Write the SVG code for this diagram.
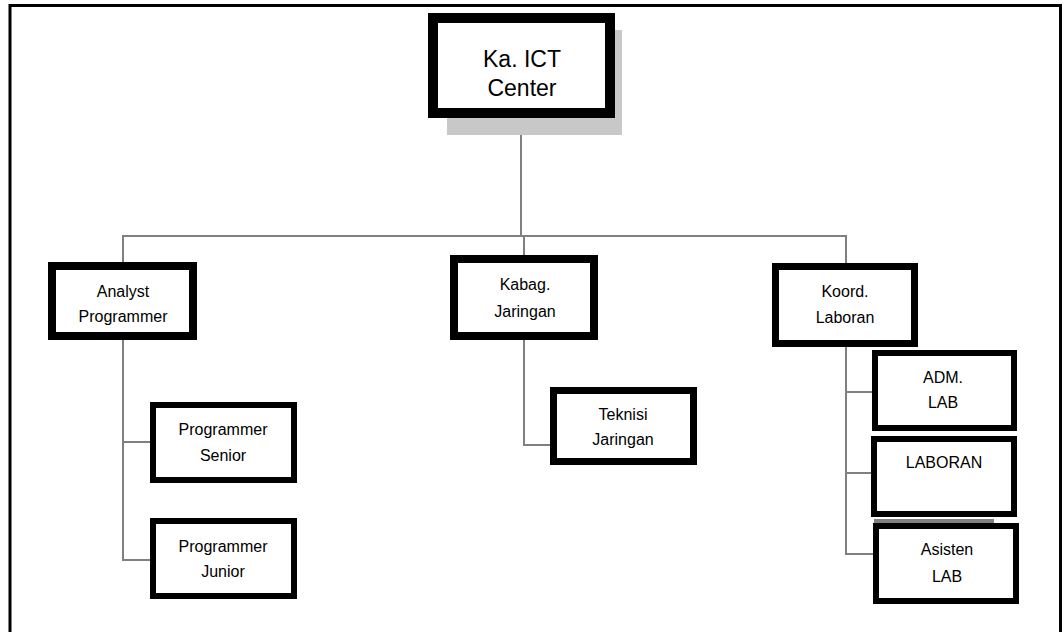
<svg xmlns="http://www.w3.org/2000/svg" width="1064" height="632" viewBox="0 0 1064 632">
<style>
.box{fill:#fff;stroke:#000}
.t{font-family:"Liberation Sans",Arial,sans-serif;font-size:16px;fill:#000;text-anchor:middle}
.big{font-size:23px}
.c{fill:none;stroke:#808080;stroke-width:2}
.sh{fill:#c8c8c8}
</style>
<rect width="1064" height="632" fill="#fff"/>
<path d="M10,640 V5.5 H1060.5 V640" fill="none" stroke="#000" stroke-width="3"/>
<g id="connectors">
<path class="c" d="M521,118 V236 M123,262 V236 H846 V263 M524,236 V255"/>
<path class="c" d="M123,340 V560 H150 M123,442 H150"/>
<path class="c" d="M524,340 V445 H550"/>
<path class="c" d="M846,347 V554 H873 M846,392 H872 M846,473 H871"/>
</g>
<g id="ka-ict-center">
<rect class="sh" x="447" y="30" width="175" height="105"/>
<rect class="box" x="433" y="18" width="177" height="95" stroke-width="10"/>
<text class="t big" x="522" y="67">Ka. ICT</text>
<text class="t big" x="522" y="96">Center</text>
</g>
<g id="analyst-programmer">
<rect class="box" x="52" y="266" width="141" height="70" stroke-width="8"/>
<text class="t" x="123" y="297">Analyst</text>
<text class="t" x="123" y="322">Programmer</text>
</g>
<g id="kabag-jaringan">
<rect class="box" x="454" y="259" width="140" height="77" stroke-width="8"/>
<text class="t" x="525" y="290">Kabag.</text>
<text class="t" x="525" y="317">Jaringan</text>
</g>
<g id="koord-laboran">
<rect class="box" x="775.5" y="266.5" width="139" height="77" stroke-width="7"/>
<text class="t" x="845" y="297">Koord.</text>
<text class="t" x="845" y="323">Laboran</text>
</g>
<g id="programmer-senior">
<rect class="box" x="153" y="405" width="141" height="75" stroke-width="6"/>
<text class="t" x="223" y="435">Programmer</text>
<text class="t" x="223" y="461">Senior</text>
</g>
<g id="programmer-junior">
<rect class="box" x="153" y="521" width="141" height="75" stroke-width="6"/>
<text class="t" x="223" y="552">Programmer</text>
<text class="t" x="223" y="577">Junior</text>
</g>
<g id="teknisi-jaringan">
<rect class="box" x="553.5" y="390.5" width="140" height="71" stroke-width="7"/>
<text class="t" x="623" y="420">Teknisi</text>
<text class="t" x="623" y="445">Jaringan</text>
</g>
<g id="adm-lab">
<rect class="box" x="875" y="353" width="139" height="75" stroke-width="6"/>
<text class="t" x="943" y="383">ADM.</text>
<text class="t" x="943" y="408">LAB</text>
</g>
<g id="laboran">
<rect class="box" x="874" y="439" width="140" height="75" stroke-width="6"/>
<text class="t" x="944" y="468">LABORAN</text>
</g>
<g id="asisten-lab">
<rect x="874" y="519" width="120" height="4" fill="#808080"/>
<rect class="box" x="876" y="526" width="140" height="75" stroke-width="6"/>
<text class="t" x="947" y="555">Asisten</text>
<text class="t" x="947" y="582">LAB</text>
</g>
</svg>
